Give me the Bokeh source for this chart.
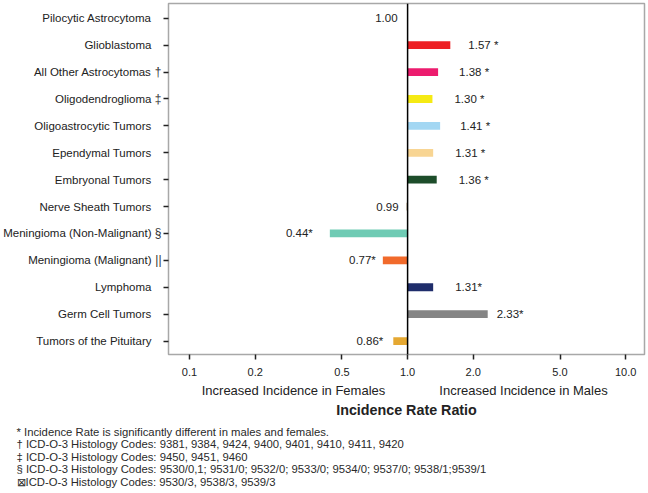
import math
from bokeh.plotting import figure
from bokeh.models import (Range1d, FixedTicker, CustomJSTickFormatter, Span, Title,
                          ColumnDataSource, LinearAxis, LogAxis)
from bokeh.embed import file_html
from bokeh.resources import INLINE
from bokeh.core.properties import value

# ---------------- data ----------------
categories = ["Pilocytic Astrocytoma", "Glioblastoma", "All Other Astrocytomas",
              "Oligodendroglioma", "Oligoastrocytic Tumors", "Ependymal Tumors",
              "Embryonal Tumors", "Nerve Sheath Tumors", "Meningioma (Non-Malignant)",
              "Meningioma (Malignant)", "Lymphoma", "Germ Cell Tumors",
              "Tumors of the Pituitary"]
ratios = [1.00, 1.57, 1.38, 1.30, 1.41, 1.31, 1.36, 0.99, 0.44, 0.77, 1.31, 2.33, 0.86]
ratio_labels = ["1.00", "1.57 *", "1.38 *", "1.30 *", "1.41 *", "1.31 *", "1.36 *",
                "0.99", "0.44*", "0.77*", "1.31*", "2.33*", "0.86*"]
category_marks = ["", "", "\u2020", "\u2021", "", "", "", "", "\u00a7", "||", "", "", ""]
x_ticks = [0.1, 0.2, 0.5, 1.0, 2.0, 5.0, 10.0]
side_labels = ["Increased Incidence in Females", "Increased Incidence in Males"]
axis_title = "Incidence Rate Ratio"
footnotes = [
    "* Incidence Rate is significantly different in males and females.",
    "\u2020 ICD-O-3 Histology Codes: 9381, 9384, 9424, 9400, 9401, 9410, 9411, 9420",
    "\u2021 ICD-O-3 Histology Codes: 9450, 9451, 9460",
    "\u00a7 ICD-O-3 Histology Codes: 9530/0,1; 9531/0; 9532/0; 9533/0; 9534/0; 9537/0; 9538/1;9539/1",
    "\u22a0ICD-O-3 Histology Codes: 9530/3, 9538/3, 9539/3",
]

# ---------------- styles / layout ----------------
bar_colors = ["#888888", "#ed2024", "#ec1c6e", "#f5ea14", "#a3d7f3", "#f8d593",
              "#1d4d2a", "#8c6d3f", "#6fcbb4", "#f16a2b", "#1f2d6b", "#858585", "#e5a832"]
label_gap = [10, 18, 21, 22, 20, 22, 22, 8, 17, 7, 22, 9, 10]
FONT = "Liberation Sans"
TXT = "#222222"

W, H = 646, 493
B_LEFT, B_RIGHT, B_TOP, B_BOTTOM = 168, 2, 3, 139
X_LO, X_HI = 0.0801, 12.2
Y_TOP, Y_BOTTOM = -0.55, 12.5
FW = W - B_LEFT - B_RIGHT


def px_to_x(px):
    a, b = math.log10(X_LO), math.log10(X_HI)
    return 10 ** (a + (px - B_LEFT) / FW * (b - a))


rows = list(range(len(categories)))

p = figure(width=W, height=H, output_backend="svg", toolbar_location=None,
           x_axis_type="log", x_range=Range1d(X_LO, X_HI),
           y_range=Range1d(Y_BOTTOM, Y_TOP),
           min_border_left=B_LEFT, min_border_right=B_RIGHT, min_border_top=B_TOP,
           min_border_bottom=B_BOTTOM)
p.grid.grid_line_color = None
p.outline_line_color = "#a8a8a8"
p.outline_line_width = 1.5
p.background_fill_color = "white"
p.border_fill_color = "white"

p.hbar(y=rows, left=1.0, right=ratios, height=0.29, fill_color=bar_colors,
       line_color=None)

p.add_layout(Span(location=1.0, dimension="height", line_color="black", line_width=1.5))

# value labels
right_idx = [i for i in rows if ratios[i] > 1.0]
left_idx = [i for i in rows if ratios[i] <= 1.0]
src_r = ColumnDataSource(dict(x=[ratios[i] for i in right_idx], y=[rows[i] for i in right_idx],
                              t=[ratio_labels[i] for i in right_idx],
                              dx=[label_gap[i] for i in right_idx]))
src_l = ColumnDataSource(dict(x=[ratios[i] for i in left_idx], y=[rows[i] for i in left_idx],
                              t=[ratio_labels[i] for i in left_idx],
                              dx=[-label_gap[i] for i in left_idx]))
for src, align in ((src_r, "left"), (src_l, "right")):
    p.text(x="x", y="y", text="t", x_offset="dx", source=src, text_align=align,
           text_baseline="middle", text_font=value(FONT), text_font_size="11.5px",
           text_color=TXT)

# x axis (ticks)
xa = p.xaxis[0]
xa.ticker = FixedTicker(ticks=x_ticks)
xa.formatter = CustomJSTickFormatter(code="return tick.toFixed(1);")
xa.minor_tick_line_color = None
xa.major_tick_out = 5
xa.major_tick_in = 0
xa.major_tick_line_color = TXT
xa.major_tick_line_width = 1.5
xa.axis_line_color = None
xa.major_label_text_font = FONT
xa.major_label_text_font_size = "11px"
xa.major_label_text_color = TXT
xa.major_label_standoff = 8

# second x axis: side labels + title
side_pos = [px_to_x(293), px_to_x(523)]
xa2 = LogAxis(ticker=FixedTicker(ticks=side_pos),
              formatter=CustomJSTickFormatter(args=dict(lab=side_labels),
                                              code="return tick < 1 ? lab[0] : lab[1];"))
xa2.minor_tick_line_color = None
xa2.major_tick_line_color = None
xa2.major_tick_out = 0
xa2.major_tick_in = 0
xa2.axis_line_color = None
xa2.major_label_text_font = FONT
xa2.major_label_text_font_size = "13px"
xa2.major_label_text_color = TXT
xa2.major_label_standoff = 4
xa2.axis_label = axis_title
xa2.axis_label_text_font = FONT
xa2.axis_label_text_font_style = "bold"
xa2.axis_label_text_font_size = "14.3px"
xa2.axis_label_text_color = TXT
xa2.axis_label_standoff = 1
p.add_layout(xa2, "below")

# footnotes as one multi-line title below
p.add_layout(Title(text="\n".join(footnotes), align="left", offset=16 - B_LEFT, standoff=7,
                   text_font=FONT, text_font_size="11.3px", text_font_style="normal",
                   text_line_height=1.05, text_color="#2a2a2a"), "below")

# y axis (inner): ticks and footnote marks
ya = p.yaxis[0]
ya.ticker = FixedTicker(ticks=rows)
ya.formatter = CustomJSTickFormatter(args=dict(m=category_marks),
                                     code="return m[Math.round(tick)];")
ya.minor_tick_line_color = None
ya.major_tick_out = 5
ya.major_tick_in = 0
ya.major_tick_line_color = TXT
ya.major_tick_line_width = 1.5
ya.axis_line_color = None
ya.major_label_text_font = FONT
ya.major_label_text_font_size = "12px"
ya.major_label_text_color = "#333333"
ya.major_label_standoff = 2

# y axis (outer): category names
ya2 = LinearAxis(ticker=FixedTicker(ticks=rows),
                 formatter=CustomJSTickFormatter(args=dict(c=categories),
                                                 code="return c[Math.round(tick)];"))
ya2.minor_tick_line_color = None
ya2.major_tick_line_color = None
ya2.major_tick_out = 0
ya2.major_tick_in = 0
ya2.axis_line_color = None
ya2.major_label_text_font = FONT
ya2.major_label_text_font_size = "11.5px"
ya2.major_label_text_color = TXT
ya2.major_label_standoff = 0
p.add_layout(ya2, "left")

open("out.html", "w").write(file_html(p, INLINE))
